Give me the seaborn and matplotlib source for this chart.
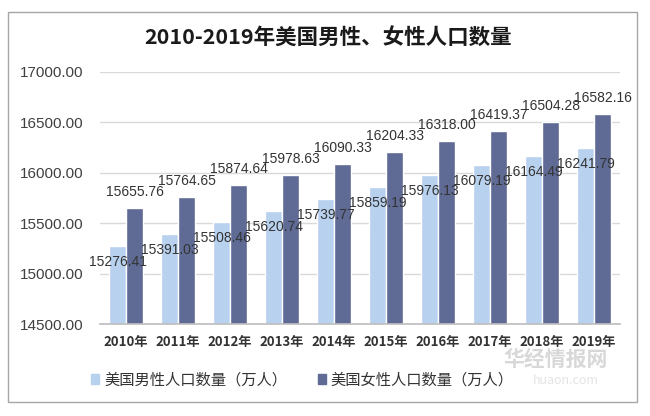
import matplotlib
matplotlib.use("Agg")
import matplotlib.pyplot as plt
import matplotlib.patches as mpatches
import seaborn as sns
import pandas as pd
from matplotlib.ticker import FormatStrFormatter

years = ["2010年", "2011年", "2012年", "2013年", "2014年", "2015年", "2016年", "2017年", "2018年", "2019年"]
male = [15276.41, 15391.03, 15508.46, 15620.74, 15739.77, 15859.19, 15976.13, 16079.19, 16164.49, 16241.79]
female = [15655.76, 15764.65, 15874.64, 15978.63, 16090.33, 16204.33, 16318.00, 16419.37, 16504.28, 16582.16]
series = ["美国男性人口数量（万人）", "美国女性人口数量（万人）"]
title = "2010-2019年美国男性、女性人口数量"

df = pd.DataFrame({
    "year": years * 2,
    "value": male + female,
    "series": [series[0]] * len(years) + [series[1]] * len(years),
})

sns.set_theme(style="white")
plt.rcParams["font.family"] = ["Noto Sans CJK SC", "DejaVu Sans"]

colors = ["#b7d1ee", "#5f6b95"]
fig = plt.figure(figsize=(6.5, 4.16), dpi=100)
ax = fig.add_axes([0.154, 0.221, 0.800, 0.606])

sns.barplot(data=df, x="year", y="value", hue="series", palette=colors,
            width=0.65, gap=0, ax=ax, legend=False, saturation=1)

ax.set_ylim(14500, 17000)
ax.set_yticks([14500, 15000, 15500, 16000, 16500, 17000])
ax.yaxis.set_major_formatter(FormatStrFormatter("%.2f"))
ax.grid(axis="y", color="#d9d9d9", linewidth=1)
ax.set_axisbelow(True)
for s in ["top", "right", "left"]:
    ax.spines[s].set_visible(False)
ax.spines["bottom"].set_color("#bfbfbf")
ax.set_xlabel("")
ax.set_ylabel("")
ax.tick_params(axis="both", length=0)
for lbl in ax.get_yticklabels():
    lbl.set_fontfamily("Liberation Sans")
    lbl.set_fontsize(11)
    lbl.set_color("#404040")
ax.tick_params(axis="y", pad=12)
for lbl in ax.get_xticklabels():
    lbl.set_fontsize(9.5)
    lbl.set_color("#333333")
    lbl.set_fontweight("bold")
ax.tick_params(axis="x", pad=8)

# value labels
for ci, cont in enumerate(ax.containers):
    offs = -11.5 if ci == 0 else 11.5
    for p in cont.patches:
        x = p.get_x() + p.get_width() / 2
        y = p.get_height() + p.get_y()
        ax.annotate(f"{p.get_height() + p.get_y():.2f}", (x, y), xytext=(0, offs),
                    textcoords="offset points", ha="center", va="center",
                    fontsize=10, family="Liberation Sans", color="#333333",
                    annotation_clip=False)

fig.text(0.505, 0.909, title, ha="center", va="center", fontsize=15.5,
         fontweight="bold", color="#1a1a1a")

handles = [mpatches.Patch(color=colors[0]), mpatches.Patch(color=colors[1])]
fig.legend(handles, series, loc="center", bbox_to_anchor=(0.465, 0.087), ncol=2,
           frameon=False, fontsize=11, handlelength=0.55, handleheight=0.55,
           handletextpad=0.3, columnspacing=2.0, labelcolor="#333333")

# outer border
fig.add_artist(mpatches.Rectangle((8 / 650, 1 - 402 / 416), (637 - 8) / 650, (402 - 12) / 416,
                                  transform=fig.transFigure, fill=False,
                                  edgecolor="#a6a6a6", linewidth=1))

# watermark
fig.text(0.855, 0.135, "华经情报网", ha="center", va="center", fontsize=15,
         color="#cfcfcf", alpha=0.8, fontweight="bold")
fig.text(0.87, 0.085, "huaon.com", ha="center", va="center", fontsize=9,
         color="#dddddd", alpha=0.8)

fig.savefig("out.png", dpi=100)
